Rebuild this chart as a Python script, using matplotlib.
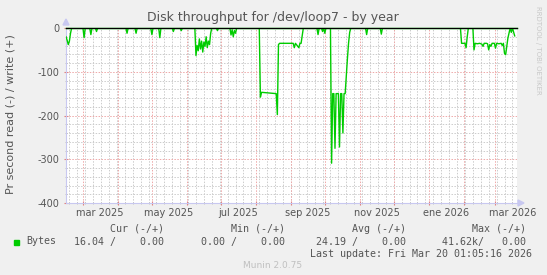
import numpy as np
import pandas as pd
import matplotlib
matplotlib.use("Agg")
import matplotlib.pyplot as plt
import matplotlib.dates as mdates

# periode affichee (graphe munin "by year")
start = pd.Timestamp("2025-02-14")
end = pd.Timestamp("2026-03-20 01:05:16")

# lecture (-) : jours depuis le debut et valeurs en octets/s
read_days = [0, 1, 2, 3, 4, 5,
             15, 16, 17, 21, 22, 23, 26, 27, 28,
             53, 54, 55, 61, 62, 63, 75, 76, 77, 82, 83, 84,
             94, 95, 96, 101, 102, 103,
             114, 115, 116, 117, 118, 119, 120, 121, 122, 123, 124, 125, 126, 127, 128, 129,
             133, 134, 135, 145, 146, 147, 148, 149, 150, 151,
             171, 172, 173, 186, 187, 188, 189, 201, 202, 203, 206, 207, 208, 210,
             222, 223, 224, 226, 227, 228, 229, 230,
             234, 235, 236, 237, 238, 239, 240, 241, 242, 243, 244, 245, 246, 247,
             248, 249, 250, 251, 252,
             265, 266, 267, 278, 279, 280,
             349, 350, 353, 354, 355, 356, 360, 361, 362, 364, 366, 368, 369, 370,
             372, 373, 374, 375, 376, 377, 379, 380, 381, 383, 385, 386, 387, 388,
             389, 390, 391, 393, 394, 395, 397]
read_vals = [-20, -28, -38, -30, -12, 0,
             0, -22, 0, 0, -15, 0, 0, -8, 0,
             0, -12, 0, 0, -12, 0, 0, -15, 0, 0, -22, 0,
             0, -8, 0, 0, -6, 0,
             0, -63, -40, -52, -25, -48, -30, -55, -32, -42, -20, -45, -30, -38, -12, 0,
             0, -6, 0, 0, -16, -4, -20, -6, -12, 0,
             0, -158, -147, -150, -198, -38, -35, -35, -45, -35, -45, -35, -35, 0,
             0, -15, 0, 0, -8, 0, -12, 0,
             0, -309, -150, -150, -275, -150, -150, -150, -272, -150, -150, -240, -150, -150,
             -110, -70, -35, -10, 0,
             0, -15, 0, 0, -14, 0,
             0, -35, -35, -45, -20, 0, 0, -50, -35, -36, -35, -37, -42, -35,
             -35, -36, -50, -38, -42, -35, -35, -46, -35, -36, -35, -40, -35, -58,
             -61, -42, -23, 0, -10, 0, -18]

# ecriture (+) : toujours nulle
write_vals = [0.0, 0.0]

xtick_labels = ["mar 2025", "may 2025", "jul 2025", "sep 2025", "nov 2025", "ene 2026", "mar 2026"]
xtick_dates = ["2025-03-16", "2025-05-16", "2025-07-16", "2025-09-16", "2025-11-16",
               "2026-01-16", "2026-03-16"]

legend_cols = ["Cur (-/+)", "Min (-/+)", "Avg (-/+)", "Max (-/+)"]
legend_vals = ["16.04 /    0.00", "0.00 /    0.00", "24.19 /    0.00", "41.62k/   0.00"]

W, H = 547, 275
txt = '#555555'
green = '#00cc00'
axis_col = '#c8c8f0'
grid_min = '#cccccc'
grid_maj = '#eea8a8'


def fx(x):
    return x / W


def fy(y):
    return 1 - y / H


fig = plt.figure(figsize=(W / 100, H / 100), dpi=100, facecolor='#f0f0f0')
ax = fig.add_axes([fx(66), fy(203), (517 - 66) / W, (203 - 28) / H])
ax.set_facecolor('white')

x0 = mdates.date2num(start)
x1 = mdates.date2num(end)
ax.set_xlim(x0, x1)
ax.set_ylim(-400, 0)

# grille
weeks = pd.date_range(start, end, freq='W-MON')
months = pd.date_range("2025-03-01", end, freq='MS')
dots = (0, (1.5, 1.5))
for d in weeks:
    ax.axvline(mdates.date2num(d), color=grid_min, lw=0.7, ls=dots, zorder=1)
for d in months:
    ax.axvline(mdates.date2num(d), color=grid_maj, lw=0.7, ls=dots, zorder=1)
for v in np.arange(-380, 0, 20):
    c = grid_maj if v % 100 == 0 else grid_min
    ax.axhline(v, color=c, lw=0.7, ls=dots, zorder=1)

# courbes
read_x = x0 + np.array(read_days)
ax.plot(read_x, read_vals, color=green, lw=1.0, zorder=3)
ax.plot([x0, x1], write_vals, color=green, lw=1.0, zorder=3, clip_on=False)
ax.plot([x0, x1], [0, 0], color='black', lw=0.9, zorder=4, clip_on=False)

# axes
for s in ['top', 'right']:
    ax.spines[s].set_visible(False)
for s in ['left', 'bottom']:
    ax.spines[s].set_color(axis_col)
    ax.spines[s].set_linewidth(0.8)

ax.set_yticks([0, -100, -200, -300, -400])
ax.set_yticklabels(['0', '-100', '-200', '-300', '-400'])
ax.set_yticks(np.arange(-380, 0, 20), minor=True)
ax.tick_params(axis='y', which='major', colors='#e08080', length=3, direction='inout',
               labelcolor=txt, labelsize=7, pad=3)
ax.tick_params(axis='y', which='minor', colors='#bbbbbb', length=2, direction='inout')

ax.set_xticks([mdates.date2num(d) for d in months])
ax.set_xticklabels([])
ax.set_xticks([mdates.date2num(d) for d in weeks], minor=True)
ax.tick_params(axis='x', which='major', colors='#e08080', length=3, direction='inout')
ax.tick_params(axis='x', which='minor', colors='#bbbbbb', length=2, direction='inout')
for lab, d in zip(xtick_labels, xtick_dates):
    ax.text(mdates.date2num(pd.Timestamp(d)), -400 - 10 * 400 / 175, lab, ha='center', va='center',
            fontsize=7, color=txt, clip_on=False)

# fleches au bout des axes
fig.patches.append(plt.Polygon([[fx(63), fy(25)], [fx(69), fy(25)], [fx(66), fy(19)]],
                               closed=True, color=axis_col, transform=fig.transFigure))
fig.patches.append(plt.Polygon([[fx(518), fy(200)], [fx(518), fy(206)], [fx(524), fy(203)]],
                               closed=True, color=axis_col, transform=fig.transFigure))

# textes
fig.text(fx(273), fy(18), "Disk throughput for /dev/loop7 - by year", ha='center', va='center',
         fontsize=9, color=txt)
fig.text(fx(11), fy(114), "Pr second read (-) / write (+)", rotation=90, ha='center', va='center',
         fontsize=8, color=txt)
fig.text(fx(538), fy(6), "RRDTOOL / TOBI OETIKER", rotation=270, ha='center', va='top',
         fontsize=5, color='#c8c8c8')

mono = 'DejaVu Sans Mono'
col_right = [164, 285, 406, 526]
for lab, xr in zip(legend_cols, col_right):
    fig.text(fx(xr), fy(228.6), lab, ha='right', va='center', family=mono, fontsize=7.2, color=txt)
fig.patches.append(plt.Rectangle((fx(14), fy(244.5)), 5 / W, 5 / H, color=green,
                                 transform=fig.transFigure))
fig.text(fx(26), fy(241.5), "Bytes", ha='left', va='center', family=mono, fontsize=7.2, color=txt)
for val, xr in zip(legend_vals, col_right):
    fig.text(fx(xr), fy(241.5), val, ha='right', va='center', family=mono, fontsize=7.2, color=txt)
fig.text(fx(532), fy(254), "Last update: Fri Mar 20 01:05:16 2026", ha='right', va='center',
         family=mono, fontsize=7.2, color=txt)
fig.text(fx(273), fy(266), "Munin 2.0.75", ha='center', va='center', fontsize=6.5, color='#c0c0c0')

fig.savefig("out.png", dpi=100, facecolor=fig.get_facecolor())
